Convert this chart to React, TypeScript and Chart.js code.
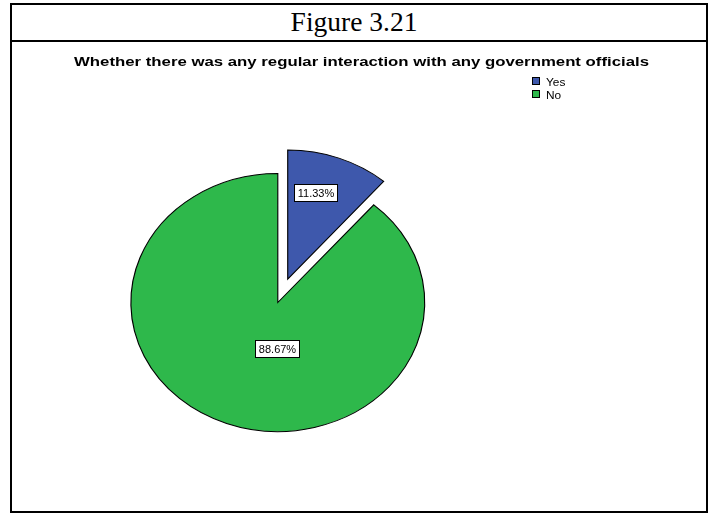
import React, { useEffect, useRef } from 'react';
import { Chart, registerables } from 'chart.js';

Chart.register(...registerables);

const FIGURE_LABEL = 'Figure 3.21';
const TITLE = 'Whether there was any regular interaction with any government officials';
const CATEGORIES = ['Yes', 'No'];
const VALUES = [11.33, 88.67];
const PERCENT_LABELS = ['11.33%', '88.67%'];
const COLORS = ['#3e58ac', '#2eb84b'];

const CANVAS_W = 694;
const CANVAS_H = 469;
const RADIUS = 129;
const X_SCALE = 1.139;
const EXPLODE = [25, 0];
const LABEL_T = [0.39, 0.438];
const LABEL_R = [0.7, 0.357];
const FONT = '"Liberation Sans", Arial, sans-serif';

const piePlugin = {
  id: 'ellipsePie',
  beforeDatasetsDraw(chart: any) {
    const ctx = chart.ctx;
    const meta = chart.getDatasetMeta(0);
    meta.data.forEach((arc: any, i: number) => {
      const { x, y, startAngle, endAngle } = arc.getProps(['x', 'y', 'startAngle', 'endAngle'], true);
      const mid = (startAngle + endAngle) / 2;
      const e = EXPLODE[i] || 0;
      ctx.save();
      ctx.translate(x, y);
      ctx.scale(X_SCALE, 1);
      ctx.translate(-x + Math.cos(mid) * e, -y + Math.sin(mid) * e);
      arc.draw(ctx);
      ctx.restore();
    });
    return false;
  },
  afterDraw(chart: any) {
    const ctx = chart.ctx;
    const meta = chart.getDatasetMeta(0);
    // percent labels
    ctx.save();
    ctx.font = `11px ${FONT}`;
    ctx.textAlign = 'center';
    ctx.textBaseline = 'middle';
    meta.data.forEach((arc: any, i: number) => {
      const { x, y, startAngle, endAngle, outerRadius } = arc.getProps(
        ['x', 'y', 'startAngle', 'endAngle', 'outerRadius'],
        true
      );
      const mid = (startAngle + endAngle) / 2;
      const e = EXPLODE[i] || 0;
      const a = startAngle + LABEL_T[i] * (endAngle - startAngle);
      const r = LABEL_R[i] * outerRadius;
      const px = x + (Math.cos(mid) * e + Math.cos(a) * r) * X_SCALE;
      const py = y + Math.sin(mid) * e + Math.sin(a) * r;
      const text = PERCENT_LABELS[i];
      const w = Math.round(ctx.measureText(text).width + 7);
      const h = 17;
      const bx = Math.round(px - w / 2) + 0.5;
      const by = Math.round(py - h / 2) + 0.5;
      ctx.fillStyle = '#ffffff';
      ctx.fillRect(bx, by, w, h);
      ctx.strokeStyle = '#000000';
      ctx.lineWidth = 1;
      ctx.strokeRect(bx, by, w, h);
      ctx.fillStyle = '#000000';
      ctx.fillText(text, bx + w / 2, by + h / 2 + 0.5);
    });
    ctx.restore();

    // title (horizontally stretched like the reference)
    ctx.save();
    ctx.font = `bold 13px ${FONT}`;
    ctx.textAlign = 'center';
    ctx.textBaseline = 'alphabetic';
    ctx.fillStyle = '#000000';
    ctx.translate(349.5, 24);
    ctx.scale(1.29, 1);
    ctx.fillText(TITLE, 0, 0);
    ctx.restore();

    // legend
    ctx.save();
    ctx.font = `11px ${FONT}`;
    ctx.textAlign = 'left';
    ctx.textBaseline = 'alphabetic';
    CATEGORIES.forEach((c, i) => {
      const sy = 35 + i * 13;
      ctx.fillStyle = COLORS[i];
      ctx.fillRect(520, sy, 8, 8);
      ctx.strokeStyle = '#000000';
      ctx.lineWidth = 1;
      ctx.strokeRect(520.5, sy + 0.5, 7, 7);
      ctx.fillStyle = '#000000';
      ctx.save();
      ctx.translate(534, sy + 8.5);
      ctx.scale(1.08, 1);
      ctx.fillText(c, 0, 0);
      ctx.restore();
    });
    ctx.restore();
  },
};

export default function App() {
  const canvasRef = useRef<HTMLCanvasElement | null>(null);

  useEffect(() => {
    if (!canvasRef.current) return;
    const chart = new Chart(canvasRef.current, {
      type: 'pie',
      data: {
        labels: CATEGORIES,
        datasets: [
          {
            data: VALUES,
            backgroundColor: COLORS,
            borderColor: '#000000',
            borderWidth: 1,
            borderJoinStyle: 'miter',
          } as any,
        ],
      },
      options: {
        responsive: false,
        animation: false,
        devicePixelRatio: 1,
        radius: RADIUS,
        layout: { padding: { left: 100, right: 262.4, top: 100, bottom: 48 } },
        plugins: {
          legend: { display: false },
          title: { display: false },
          tooltip: { enabled: false },
        },
      } as any,
      plugins: [piePlugin],
    });
    return () => chart.destroy();
  }, []);

  return (
    <div
      style={{
        position: 'absolute',
        left: 10,
        top: 3,
        width: 694,
        height: 506,
        border: '2px solid #000',
        background: '#fff',
      }}
    >
      <div
        style={{
          position: 'absolute',
          left: 0,
          top: 0,
          width: 694,
          height: 35,
          borderBottom: '2px solid #000',
        }}
      />
      <div
        style={{
          position: 'absolute',
          left: -5,
          top: 1,
          width: 694,
          textAlign: 'center',
          fontFamily: '"Liberation Serif", "Times New Roman", serif',
          fontSize: 27.5,
          lineHeight: 'normal',
          whiteSpace: 'nowrap',
        }}
      >
        {FIGURE_LABEL}
      </div>
      <canvas
        ref={canvasRef}
        width={CANVAS_W}
        height={CANVAS_H}
        style={{ position: 'absolute', left: 0, top: 37, display: 'block' }}
      />
    </div>
  );
}
